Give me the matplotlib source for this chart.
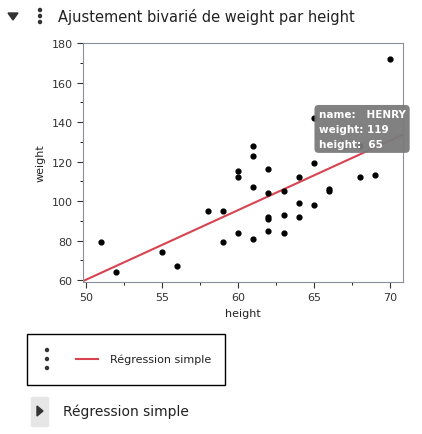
import numpy as np
import matplotlib.pyplot as plt
from matplotlib.patches import Rectangle, Polygon

# Données
height = [51, 52, 55, 56, 58, 59, 59, 60, 60, 60, 61, 61, 61, 61, 62, 62, 62, 62, 62,
          63, 63, 63, 64, 64, 64, 65, 65, 65, 66, 66, 67, 68, 68, 69, 70]
weight = [79, 64, 74, 67, 95, 95, 79, 115, 112, 84, 128, 123, 107, 81, 116, 104, 92, 91, 85,
          105, 93, 84, 112, 99, 92, 142, 98, 119, 106, 105, 128, 128, 112, 113, 172]
xticks = [50, 55, 60, 65, 70]
yticks = [60, 80, 100, 120, 140, 160, 180]

W, H = 422, 435
fig = plt.figure(figsize=(W / 100, H / 100), dpi=100)
ax = fig.add_axes([83 / W, 1 - 283 / H, 320 / W, 239 / H])

ax.scatter(height, weight, s=12, color='black', zorder=3)
b, a = np.polyfit(height, weight, 1)
xl = np.array([49.8, 71])
ax.plot(xl, a + b * xl, color='#d9434f', lw=1.5, zorder=2)

ax.set_xlim(49.8, 70.85)
ax.set_ylim(59, 180)
ax.set_xticks(xticks)
ax.set_yticks(yticks)
ax.set_xticks(np.arange(52.5, 71, 5), minor=True)
ax.set_yticks(np.arange(70, 180, 20), minor=True)
ax.tick_params(labelsize=8, colors='#333333', length=4)
ax.tick_params(which='minor', length=2)
for s in ax.spines.values():
    s.set_color('#8a9099')
ax.set_xlabel('height', fontsize=8, color='#222222')
ax.set_ylabel('weight', fontsize=8, color='#222222')

# Info-bulle
ax.text(65.3, 136.5, 'name:   HENRY\nweight: 119\nheight:  65', fontsize=7.5, color='white',
        fontweight='bold', va='center', linespacing=1.6, zorder=5,
        bbox=dict(boxstyle='round,pad=0.4', fc='#7a7a7a', ec='none', alpha=0.95))

# Titre et contrôles
fig.text(58 / W, 1 - 17 / H, 'Ajustement bivarié de weight par height', fontsize=10.5,
         va='center', color='#222222')
fig.patches.append(Polygon([[8 / W, 1 - 14 / H], [18 / W, 1 - 14 / H], [13 / W, 1 - 21 / H]],
                           closed=True, transform=fig.transFigure, color='#333333'))
for dy in (11, 17, 23):
    fig.patches.append(plt.Circle((40 / W, 1 - dy / H), 1.5 / W, transform=fig.transFigure,
                                  color='#333333'))

# Légende
fig.patches.append(Rectangle((27 / W, 1 - 386 / H), 198 / W, 51 / H, transform=fig.transFigure,
                             fill=False, ec='black', lw=1))
for dy in (351, 360, 369):
    fig.patches.append(plt.Circle((47 / W, 1 - dy / H), 1.5 / W, transform=fig.transFigure,
                                  color='#333333'))
fig.lines.append(plt.Line2D([76 / W, 98 / W], [1 - 360 / H] * 2, transform=fig.transFigure,
                            color='#d9434f', lw=1.5))
fig.text(110 / W, 1 - 360 / H, 'Régression simple', fontsize=8, va='center', color='#222222')

# Bouton du bas
fig.patches.append(Rectangle((31 / W, 1 - 427 / H), 17 / W, 29 / H, transform=fig.transFigure,
                             color='#e6e6e6'))
fig.patches.append(Polygon([[37 / W, 1 - 407 / H], [37 / W, 1 - 417 / H], [43 / W, 1 - 412 / H]],
                           closed=True, transform=fig.transFigure, color='#333333'))
fig.text(63 / W, 1 - 412 / H, 'Régression simple', fontsize=10, va='center', color='#222222')

fig.savefig('out.png', dpi=100)
